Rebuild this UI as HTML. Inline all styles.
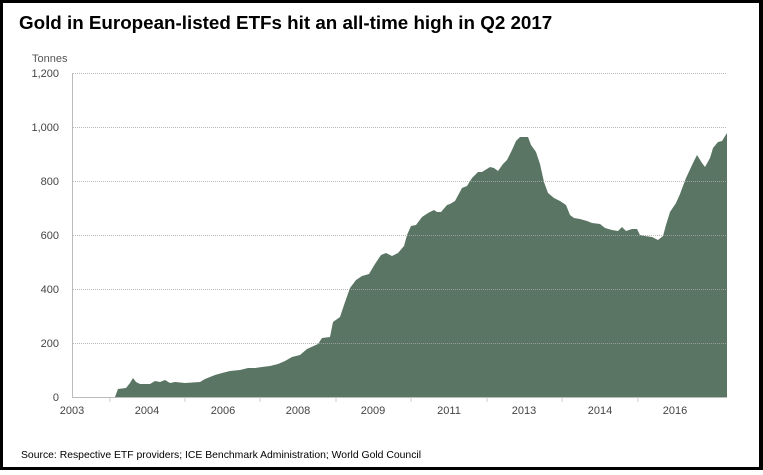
<!DOCTYPE html>
<html><head><meta charset="utf-8"><style>
html,body{margin:0;padding:0;background:#fff}
body{width:763px;height:470px;overflow:hidden}
</style></head><body>
<svg width="763" height="470" xmlns="http://www.w3.org/2000/svg" font-family="Liberation Sans, sans-serif">
<rect x="0" y="0" width="763" height="470" fill="#000"/>
<rect x="3" y="3" width="756" height="464" fill="#fff"/>
<text x="19" y="29" font-size="18.8" font-weight="bold" fill="#000">Gold in European-listed ETFs hit an all-time high in Q2 2017</text>
<text x="32" y="62" font-size="11" fill="#555">Tonnes</text>
<path fill="#5a7563" d="M72,397 L115,397 L118,389 L126,388 L130,383 L133,378 L136,382 L140,384 L150,384 L155,381 L160,382 L165,380 L170,383 L175,382 L185,383 L200,382 L205,379 L210,377 L215,375 L222,373 L230,371 L240,370 L248,368 L255,368 L262,367 L270,366 L278,364 L285,361 L292,357 L300,355 L307,349 L318,344 L322,338 L330,337 L333,322 L340,317 L344,305 L350,288 L356,280 L362,276 L369,274 L375,264 L381,255 L386,253 L392,256 L398,253 L404,246 L407,235 L411,226 L416,225 L422,217 L428,213 L434,210 L437,212 L441,212 L447,205 L450,204 L455,201 L462,188 L467,186 L472,178 L478,172 L482,172 L490,167 L494,168 L498,171 L503,164 L507,160 L512,150 L516,141 L520,137 L528,137 L531,145 L536,152 L540,164 L544,182 L548,193 L554,198 L560,201 L566,205 L570,215 L574,218 L580,219 L587,221 L592,223 L600,224 L605,228 L612,230 L618,231 L622,227 L626,231 L632,229 L637,229 L640,235 L645,236 L652,237 L658,240 L663,236 L666,225 L670,212 L676,203 L680,194 L686,178 L693,163 L697,155 L702,163 L705,167 L710,158 L713,148 L718,142 L722,141 L727,133 L727,397 Z"/>
<g stroke="#aaa" stroke-width="1" stroke-dasharray="1,1" opacity="0.8">
<line x1="73" y1="73.5" x2="727" y2="73.5"/>
<line x1="73" y1="127.5" x2="727" y2="127.5"/>
<line x1="73" y1="181.5" x2="727" y2="181.5"/>
<line x1="73" y1="235.5" x2="727" y2="235.5"/>
<line x1="73" y1="289.5" x2="727" y2="289.5"/>
<line x1="73" y1="343.5" x2="727" y2="343.5"/>
</g>
<line x1="72.5" y1="73" x2="72.5" y2="397" stroke="#bbb"/>
<line x1="72" y1="397.5" x2="727" y2="397.5" stroke="#bbb"/>
<g font-size="11" fill="#444" text-anchor="end">
<text x="59" y="77">1,200</text>
<text x="59" y="131">1,000</text>
<text x="59" y="185">800</text>
<text x="59" y="239">600</text>
<text x="59" y="293">400</text>
<text x="59" y="347">200</text>
<text x="59" y="401">0</text>
</g>
<g stroke="#ccc">
<line x1="110" y1="398" x2="110" y2="402"/><line x1="185" y1="398" x2="185" y2="402"/>
<line x1="260" y1="398" x2="260" y2="402"/><line x1="336" y1="398" x2="336" y2="402"/>
<line x1="411" y1="398" x2="411" y2="402"/><line x1="487" y1="398" x2="487" y2="402"/>
<line x1="562" y1="398" x2="562" y2="402"/><line x1="638" y1="398" x2="638" y2="402"/>
</g>
<g font-size="11" fill="#444" text-anchor="middle">
<text x="72" y="414">2003</text>
<text x="147" y="414">2004</text>
<text x="223" y="414">2006</text>
<text x="298" y="414">2008</text>
<text x="373" y="414">2009</text>
<text x="449" y="414">2011</text>
<text x="524" y="414">2013</text>
<text x="600" y="414">2014</text>
<text x="675" y="414">2016</text>
</g>
<text x="21" y="458" font-size="10.4" fill="#000">Source: Respective ETF providers; ICE Benchmark Administration; World Gold Council</text>
</svg>
</body></html>
